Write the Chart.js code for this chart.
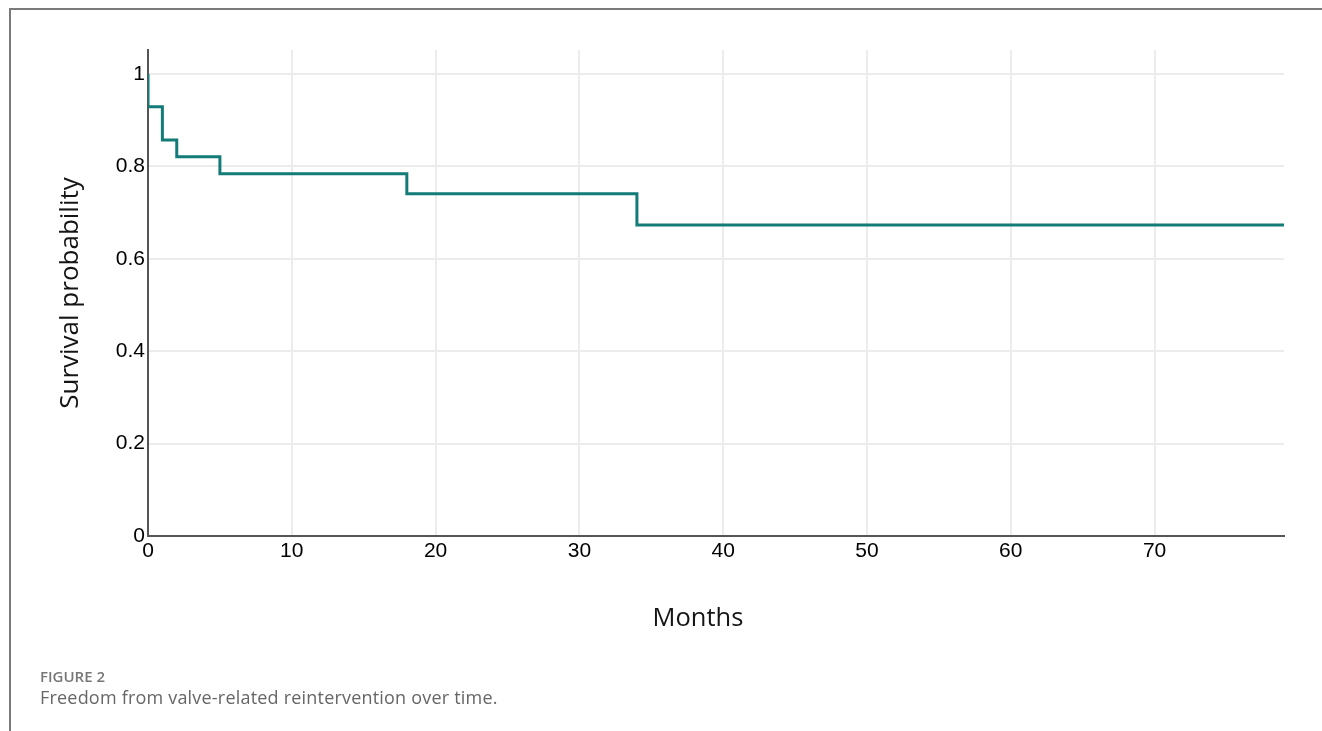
<!DOCTYPE html>
<html>
<head>
<meta charset="utf-8">
<script src="https://cdn.jsdelivr.net/npm/chart.js@4"></script>
<style>
  html, body { margin: 0; padding: 0; background: #fff; }
  #page { position: relative; width: 1322px; height: 731px; overflow: hidden; }
  #frame { position: absolute; left: 9px; top: 8px; right: -5px; bottom: -5px;
           border-top: 2px solid #7a7a7a; border-left: 2px solid #7a7a7a; }
  #chart { position: absolute; left: 0; top: 0; }
  .x-title { position: absolute; left: 598px; width: 200px; top: 599px; text-align: center;
             font: 25.5px "Open Sans", sans-serif; color: #151515; }
  .fig-no { position: absolute; left: 40px; top: 666px; font: 600 15px "Open Sans", sans-serif;
            color: #777; }
  .fig-cap { position: absolute; left: 40px; top: 685px; font: 18px "Open Sans", sans-serif;
             color: #666; letter-spacing: 0.2px; }
</style>
</head>
<body>
<div id="page">
  <div id="frame"></div>
  <canvas id="chart" width="1322" height="731"></canvas>
  <div class="x-title">Months</div>
  <div class="fig-no">FIGURE 2</div>
  <div class="fig-cap">Freedom from valve-related reintervention over time.</div>
</div>
<script>
// Kaplan-Meier steps
const months   = [0, 0, 1, 2, 5, 18, 34, 79];
const survival = [1, 0.929, 0.857, 0.821, 0.784, 0.741, 0.673, 0.673];
const xTicks = [0, 10, 20, 30, 40, 50, 60, 70];
const yTicks = [0, 0.2, 0.4, 0.6, 0.8, 1];

const points = months.map((m, i) => ({ x: m, y: survival[i] }));

const tickFont = { family: '"Liberation Sans", Arial, sans-serif', size: 21 };
const titleFont = { family: '"Open Sans", sans-serif', size: 26 };

new Chart(document.getElementById('chart'), {
  type: 'line',
  data: {
    datasets: [{
      data: points,
      stepped: 'before',
      borderColor: '#137b78',
      borderWidth: 3,
      pointRadius: 0,
      fill: false
    }]
  },
  options: {
    responsive: false,
    animation: false,
    layout: { padding: { top: 50, right: 38, bottom: 95, left: 0 } },
    plugins: { legend: { display: false }, tooltip: { enabled: false } },
    scales: {
      x: {
        type: 'linear',
        min: 0,
        max: 79,
        afterBuildTicks: s => { s.ticks = xTicks.map(v => ({ value: v })); },
        afterFit: s => { s.height = 100; },
        ticks: { color: '#000', font: tickFont, padding: 3, maxRotation: 0 },
        grid: { color: '#ececec', lineWidth: 2, drawTicks: false },
        border: { color: '#555', width: 2 }
      },
      y: {
        type: 'linear',
        min: 0,
        max: 1.052,
        afterBuildTicks: s => { s.ticks = yTicks.map(v => ({ value: v })); },
        afterFit: s => { s.width = 148; },
        ticks: { color: '#000', font: tickFont, padding: 3,
                 callback: v => String(+v.toFixed(1)) },
        grid: { color: '#ececec', lineWidth: 2, drawTicks: false },
        border: { color: '#555', width: 2 },
        title: { display: true, text: 'Survival probability', color: '#151515', font: titleFont,
                 padding: { top: 55, bottom: 0 } }
      }
    }
  }
});
</script>
</body>
</html>
